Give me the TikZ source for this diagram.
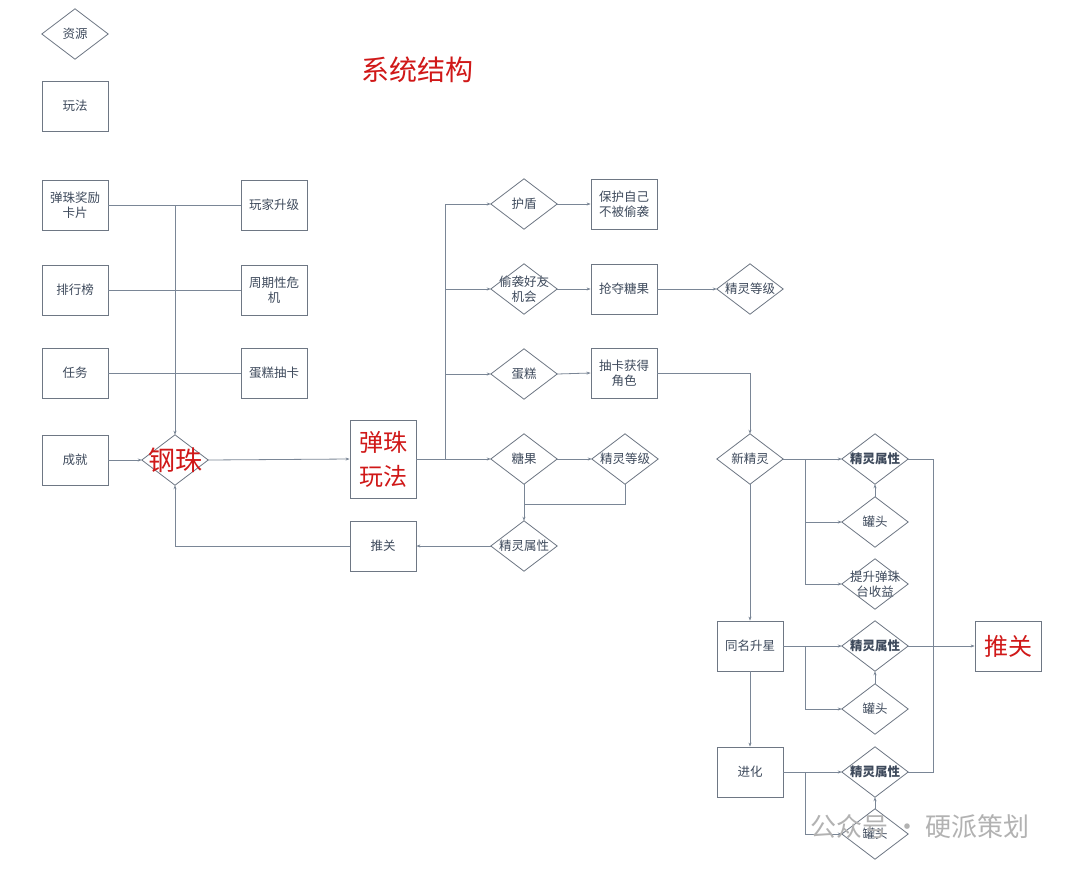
\documentclass[tikz,border=0pt]{standalone}
\usepackage{fontspec}
\setmainfont{Noto Sans CJK SC}
\usetikzlibrary{arrows.meta}
\definecolor{ln}{HTML}{7A8696}
\definecolor{bd}{HTML}{6E7784}
\definecolor{tx}{HTML}{3E4A5C}
\definecolor{rd}{HTML}{D01818}
\tikzset{
 bx/.style={draw=bd,line width=0.8pt,fill=white,inner sep=0pt,minimum width=66pt,minimum height=50pt,align=center,font=\fontsize{12.5}{15}\selectfont,text=tx},
 dt/.style={inner sep=0pt,minimum width=66pt,minimum height=50pt,align=center,font=\fontsize{12.5}{15}\selectfont,text=tx},
 ln/.style={draw=ln,line width=0.8pt},
 ar/.style={ln,-{Stealth[length=4pt,width=3pt]}},
 big/.style={font=\fontsize{26}{32}\selectfont,text=rd}
}
\newcommand{\dia}[4]{\node[dt,#4] (#1) at (#2) {#3};
 \draw[draw=bd,line width=0.8pt] (#1.north)--(#1.east)--(#1.south)--(#1.west)--cycle;}
\begin{document}
\begin{tikzpicture}[x=1pt,y=-1pt]
\useasboundingbox (0,0) rectangle (1080,871);
\fill[white] (0,0) rectangle (1080,871);
% legend
\dia{zy}{75,34}{资源}{}
\node[bx] (wf) at (75,106) {玩法};
\node[font=\fontsize{28}{32}\selectfont,text=rd] (title) at (417,70) {系统结构};
% left
\node[bx] (l1) at (75,205) {弹珠奖励\\卡片};
\node[bx] (l2) at (75,290) {排行榜};
\node[bx] (l3) at (75,373) {任务};
\node[bx] (l4) at (75,460) {成就};
\node[bx] (r1) at (274,205) {玩家升级};
\node[bx] (r2) at (274,290) {周期性危\\机};
\node[bx] (r3) at (274,373) {蛋糕抽卡};
\dia{gz}{175,460}{}{}
\node[big,font=\fontsize{27}{32}\selectfont] at (175,460) {钢珠};
\draw[ln] (l1)--(r1); \draw[ln] (l2)--(r2); \draw[ln] (l3)--(r3);
\coordinate (j1) at (175,205);
\draw[ar] (j1)--(gz.north);
\draw[ar] (l4)--(gz.west);
\node[bx,minimum height=78pt,big,align=center,font=\fontsize{24}{34}\selectfont] (dz) at (383,459) {弹珠\\玩法};
\draw[ar] (gz.east)--(dz.west);
\node[bx] (tg) at (383,546) {推关};
\draw[ar] (tg.west)-|(gz.south);
% middle
\dia{hd}{524,204}{护盾}{}
\dia{tx}{524,289}{偷袭好友\\机会}{}
\dia{dg}{524,374}{蛋糕}{}
\dia{tg2}{524,459}{糖果}{}
\coordinate (bj) at (445,459);
\draw[ln] (dz.east)--(bj);
\draw[ar] (bj)|-(hd.west);
\draw[ar] (bj)|-(tx.west);
\draw[ar] (bj)|-(dg.west);
\draw[ar] (bj)--(tg2.west);
\node[bx] (bh) at (624,204) {保护自己\\不被偷袭};
\node[bx] (qd) at (624,289) {抢夺糖果};
\node[bx] (ck) at (624,373) {抽卡获得\\角色};
\draw[ar] (hd.east)--(bh.west);
\draw[ar] (tx.east)--(qd.west);
\draw[ar] (dg.east)--(ck.west);
\dia{dj1}{750,289}{精灵等级}{}
\draw[ar] (qd.east)--(dj1.west);
\dia{dj2}{625,459}{精灵等级}{}
\draw[ar] (tg2.east)--(dj2.west);
\dia{sx0}{524,546}{精灵属性}{}
\coordinate (m1) at (524,504);
\draw[ln] (tg2.south)--(m1);
\draw[ln] (dj2.south)|-(m1);
\draw[ar] (m1)--(sx0.north);
\draw[ar] (sx0.west)--(tg.east);
% right
\dia{xjl}{750,459}{新精灵}{}
\draw[ar] (ck.east)-|(xjl.north);
\dia{sx1}{875,459}{精灵属性}{font=\bfseries\fontsize{12.5}{15}\selectfont}
\dia{gt1}{875,522}{罐头}{}
\dia{ts}{875,584}{提升弹珠\\台收益}{}
\coordinate (v1) at (805,459);
\draw[ln] (xjl.east)--(v1);
\draw[ar] (v1)--(sx1.west);
\draw[ar] (v1)|-(gt1.west);
\draw[ar] (v1)|-(ts.west);
\draw[ar] (gt1.north)--(sx1.south);
\node[bx] (tm) at (750,646) {同名升星};
\draw[ar] (xjl.south)--(tm.north);
\dia{sx2}{875,646}{精灵属性}{font=\bfseries\fontsize{12.5}{15}\selectfont}
\dia{gt2}{875,709}{罐头}{}
\coordinate (v2) at (805,646);
\draw[ln] (tm.east)--(v2);
\draw[ar] (v2)--(sx2.west);
\draw[ar] (v2)|-(gt2.west);
\draw[ar] (gt2.north)--(sx2.south);
\node[bx] (jh) at (750,772) {进化};
\draw[ar] (tm.south)--(jh.north);
\dia{sx3}{875,772}{精灵属性}{font=\bfseries\fontsize{12.5}{15}\selectfont}
\dia{gt3}{875,834}{罐头}{}
\coordinate (v3) at (805,772);
\draw[ln] (jh.east)--(v3);
\draw[ar] (v3)--(sx3.west);
\draw[ar] (v3)|-(gt3.west);
\draw[ar] (gt3.north)--(sx3.south);
\node[bx,big,font=\fontsize{24}{30}\selectfont] (tg3) at (1008,646) {推关};
\coordinate (c1) at (933,459);
\coordinate (c3) at (933,772);
\draw[ln] (sx1.east)--(c1)--(c3)--(sx3.east);
\draw[ar] (sx2.east)--(tg3.west);
% watermark
\node[text=black!30,font=\fontsize{26}{30}\selectfont] (wm) at (920,827) {公众号 · 硬派策划};
\end{tikzpicture}
\end{document}
